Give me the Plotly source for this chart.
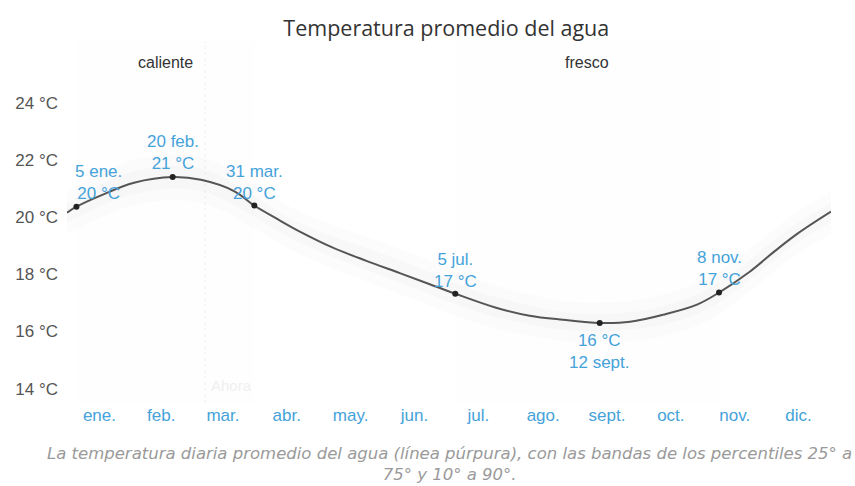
import plotly.graph_objects as go

# Daily average water temperature (day of year, °C)
days = [0, 4.5, 16, 32, 50.5, 64, 80, 89.5, 100, 111, 127, 143, 159, 173, 185.5,
        205, 221, 237, 254.5, 269, 285, 301, 311.5, 326, 338, 349, 365]
temps = [20.15, 20.36, 20.75, 21.2, 21.4, 21.3, 20.9, 20.4, 19.95, 19.5, 18.93,
         18.47, 18.04, 17.66, 17.32, 16.83, 16.55, 16.41, 16.3, 16.34, 16.59,
         16.94, 17.36, 18.08, 18.8, 19.42, 20.19]

# Percentile bands (25th-75th and 10th-90th)
band_days = [0, 32, 64, 111, 159, 205, 254.5, 301, 349, 365]
p10 = [19.4, 20.4, 20.5, 18.7, 17.3, 16.1, 15.6, 16.2, 18.7, 19.4]
p25 = [19.8, 20.8, 20.9, 19.1, 17.7, 16.5, 16.0, 16.6, 19.1, 19.8]
p75 = [20.5, 21.6, 21.7, 19.8, 18.5, 17.2, 16.6, 17.3, 19.8, 20.5]
p90 = [20.9, 22.0, 22.1, 20.2, 18.9, 17.6, 17.0, 17.7, 20.2, 20.9]

# Highlighted dates
key_idx = [1, 4, 7, 14, 18, 22]
key_dates = ["5 ene.", "20 feb.", "31 mar.", "5 jul.", "12 sept.", "8 nov."]

# Seasons
seasons = [("caliente", 4.5, 89.5), ("fresco", 185.5, 311.5)]
now_day = 66

month_days = [15.5, 45, 74.5, 105, 135.5, 166, 196.5, 227.5, 258, 288.5, 319, 349.5]
month_labels = ["ene.", "feb.", "mar.", "abr.", "may.", "jun.",
                "jul.", "ago.", "sept.", "oct.", "nov.", "dic."]
y_ticks = [14, 16, 18, 20, 22, 24]
y_labels = [f"{t} °C" for t in y_ticks]

BLUE = "#45a2da"
FONT = "Liberation Sans, Arial, sans-serif"

fig = go.Figure()

# Percentile bands
fig.add_trace(go.Scatter(x=band_days, y=p90, mode="lines", line=dict(width=0, shape="spline"),
                         hoverinfo="skip", showlegend=False))
fig.add_trace(go.Scatter(x=band_days, y=p10, mode="lines", line=dict(width=0, shape="spline"),
                         fill="tonexty", fillcolor="rgba(0,0,0,0.012)",
                         hoverinfo="skip", showlegend=False))
fig.add_trace(go.Scatter(x=band_days, y=p75, mode="lines", line=dict(width=0, shape="spline"),
                         hoverinfo="skip", showlegend=False))
fig.add_trace(go.Scatter(x=band_days, y=p25, mode="lines", line=dict(width=0, shape="spline"),
                         fill="tonexty", fillcolor="rgba(0,0,0,0.016)",
                         hoverinfo="skip", showlegend=False))

# Average temperature line
fig.add_trace(go.Scatter(x=days, y=temps, mode="lines",
                         line=dict(color="#555555", width=2, shape="spline", smoothing=1.0),
                         hoverinfo="skip", showlegend=False))

kx = [days[i] for i in key_idx]
ky = [temps[i] for i in key_idx]
fig.add_trace(go.Scatter(x=kx, y=ky, mode="markers",
                         marker=dict(color="#222222", size=6),
                         hoverinfo="skip", showlegend=False))

annotations = []
shifts = {"5 ene.": (22, 2), "20 feb.": (0, 2), "31 mar.": (0, 1),
          "5 jul.": (0, 1), "8 nov.": (0, 2)}
for d, x, y in zip(key_dates, kx, ky):
    if d == "12 sept.":
        annotations.append(dict(x=x, y=y, xref="x", yref="y",
                                text=f"{round(y)} °C<br>{d}", showarrow=False,
                                yanchor="top", yshift=-6,
                                font=dict(family=FONT, size=17, color=BLUE)))
    else:
        xs, ys = shifts[d]
        annotations.append(dict(x=x, y=y, xref="x", yref="y",
                                text=f"{d}<br>{round(y)} °C", showarrow=False,
                                yanchor="bottom", xshift=xs, yshift=ys,
                                font=dict(family=FONT, size=17, color=BLUE)))

shapes = []
for name, a, b in seasons:
    shapes.append(dict(type="rect", xref="x", yref="paper", x0=a, x1=b, y0=0, y1=1.1,
                       fillcolor="rgba(0,0,0,0.005)", line=dict(width=0), layer="below"))
    annotations.append(dict(x=(a + b) / 2, y=1.0, xref="x", yref="paper",
                            text=name, showarrow=False, yanchor="bottom", yshift=1,
                            font=dict(family=FONT, size=16, color="#333333")))

shapes.append(dict(type="line", xref="x", yref="paper", x0=now_day, x1=now_day, y0=0, y1=1.1,
                   line=dict(color="#f0f0f0", width=1, dash="dot"), layer="below"))
annotations.append(dict(x=now_day, y=0.02, xref="x", yref="paper", text="Ahora",
                        showarrow=False, xanchor="left", yanchor="bottom", xshift=4,
                        font=dict(family=FONT, size=15, color="#f0f0f0")))

annotations.append(dict(
    x=0.5, y=-0.118, xref="paper", yref="paper", showarrow=False, yanchor="top",
    text="La temperatura diaria promedio del agua (línea púrpura), con las bandas de los percentiles 25° a<br>75° y 10° a 90°.",
    font=dict(family="DejaVu Sans, sans-serif", size=16.5, color="#9a9a9a", style="italic"),
))

fig.update_layout(
    width=855, height=486,
    margin=dict(l=67, r=24, t=74, b=83),
    paper_bgcolor="white", plot_bgcolor="white",
    title=dict(text="Temperatura promedio del agua", x=0.522, xanchor="center",
               y=0.942, yanchor="middle",
               font=dict(family="Open Sans, sans-serif", size=21.5, color="#333333")),
    xaxis=dict(range=[0, 365], tickvals=month_days, ticktext=month_labels,
               showgrid=False, zeroline=False, showline=False, ticks="",
               tickfont=dict(family=FONT, size=17, color=BLUE)),
    yaxis=dict(range=[13.5, 25], tickvals=y_ticks, ticktext=y_labels,
               showgrid=False, zeroline=False, showline=False, ticks="",
               ticklabelstandoff=8,
               tickfont=dict(family=FONT, size=17, color="#555555")),
    annotations=annotations,
    shapes=shapes,
)

fig.write_html("out.html")
